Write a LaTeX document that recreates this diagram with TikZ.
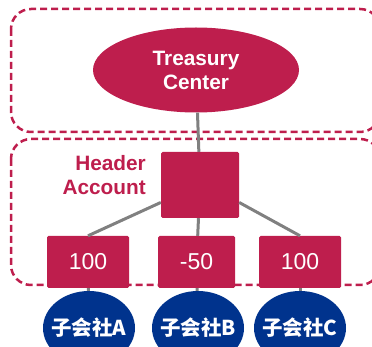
\documentclass[tikz,border=0pt]{standalone}
\usepackage{fontspec}
\setmainfont{Liberation Sans}
\newcommand{\cjk}{\fontspec{Noto Sans CJK SC}}
\usetikzlibrary{shapes.geometric}

\definecolor{crimson}{RGB}{190,30,77}
\definecolor{navy}{RGB}{0,51,141}
\definecolor{linkgray}{RGB}{128,128,128}

\newcommand{\nowidth}[1]{\makebox[0pt]{#1}}

\tikzset{
  zone/.style={draw=crimson,line width=2.5pt,dash pattern=on 7pt off 4pt,rounded corners=20pt},
  center/.style={ellipse,fill=crimson,text=white,align=center,
    minimum width=206pt,minimum height=85pt,inner sep=0pt,
    font=\bfseries\fontsize{20.8}{24}\selectfont},
  header/.style={rectangle,fill=crimson,rounded corners=1.5pt,
    minimum width=78pt,minimum height=66pt},
  amount/.style={rectangle,fill=crimson,text=white,rounded corners=1.5pt,
    minimum height=52pt,inner sep=0pt,font=\fontsize{23}{27}\selectfont},
  company/.style={ellipse,fill=navy,text=white,inner sep=0pt,
    minimum width=92pt,minimum height=74pt},
  link/.style={draw=linkgray,line width=3pt}
}

\begin{document}
\begin{tikzpicture}[x=1pt,y=-1pt]

        \useasboundingbox (0,0) rectangle (372,347);

        % dashed zones
        \draw[zone] (11,9) rectangle (380,132);
        \draw[zone] (11,139) rectangle (380,285);

        \node[center] (tc) at (196,70) {Treasury\\Center};

        \node[header] (hdr) at (200,185) {};
        \node[anchor=east,align=right,text=crimson,inner sep=0pt,
              font=\bfseries\fontsize{20.8}{24}\selectfont] (hlabel) at (146,175) {Header\\Account};

        \begin{scope}[every node/.style={amount}]
          \node[minimum width=82pt] (a) at (88,262)  {100};
          \node[minimum width=77pt] (b) at (196.5,262) {-50};
          \node[minimum width=82pt] (c) at (300,262) {100};
        \end{scope}

        \begin{scope}[every node/.style={company}]
          \node (ca) at (89,328)  {\nowidth{\cjk\bfseries\fontsize{20.5}{24}\selectfont 子会社A}};
          \node (cb) at (198,328) {\nowidth{\cjk\bfseries\fontsize{20.5}{24}\selectfont 子会社B}};
          \node (cc) at (300,328) {\nowidth{\cjk\bfseries\fontsize{20.5}{24}\selectfont 子会社C}};
        \end{scope}

        \begin{scope}[every edge/.style={link}]
          \path (tc)      edge (hdr);
          \path (hdr.204) edge (a.north);
          \path (hdr)     edge (b);
          \path (hdr.336) edge (c.north);
          \path (a)       edge (ca);
          \path (b)       edge (cb);
          \path (c)       edge (cc);
        \end{scope}

      \end{tikzpicture}
\end{document}
